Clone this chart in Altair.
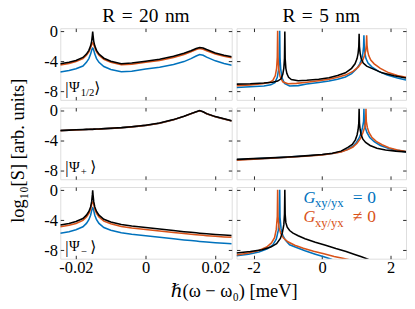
import altair as alt
import pandas as pd

# ---------------- data ----------------
# Left column (R = 20 nm): shared x grid, values are log10 S
L_X = [-0.0245, -0.022, -0.02, -0.018, -0.017, -0.0163, -0.0158, -0.0155, -0.0153, -0.0152,
       -0.0151, -0.0149, -0.0146, -0.0141, -0.0134, -0.012, -0.01, -0.007, -0.004, 0.0,
       0.004, 0.008, 0.011, 0.013, 0.0145, 0.0155, 0.0165, 0.0175, 0.02, 0.0225, 0.0247]

TL_BLACK = [-4.3, -4.1, -3.85, -3.45, -3.0, -2.5, -1.9, -1.3, -0.5, 0.0,
            -0.5, -1.3, -1.9, -2.5, -3.0, -3.55, -3.95, -4.28, -4.2, -3.95,
            -3.7, -3.3, -2.9, -2.55, -2.25, -2.12, -2.2, -2.4, -2.85, -3.15, -3.35]
TL_ORANGE = [-4.45, -4.25, -4.0, -3.6, -3.15, -2.7, -2.15, -1.75, -1.55, -1.5,
             -1.55, -1.75, -2.15, -2.7, -3.15, -3.7, -4.1, -4.42, -4.35, -4.1,
             -3.85, -3.45, -3.05, -2.7, -2.4, -2.27, -2.35, -2.55, -3.0, -3.3, -3.5]
TL_BLUE = [-5.4, -5.2, -4.95, -4.6, -4.1, -3.6, -3.0, -2.5, -2.25, -2.2,
           -2.25, -2.5, -3.0, -3.6, -4.1, -4.65, -5.05, -5.35, -5.3, -5.0,
           -4.75, -4.4, -4.0, -3.6, -3.25, -3.05, -3.15, -3.4, -3.9, -4.25, -4.5]

ML_BLACK = [-2.6, -2.55, -2.5, -2.47, -2.45, -2.44, -2.43, -2.43, -2.43, -2.43,
            -2.43, -2.42, -2.42, -2.41, -2.4, -2.35, -2.3, -2.22, -2.1, -1.9,
            -1.6, -1.15, -0.7, -0.35, -0.1, 0.05, -0.1, -0.35, -0.75, -1.05, -1.3]
ML_ORANGE = [-2.62, -2.57, -2.52, -2.49, -2.47, -2.46, -2.45, -2.45, -2.45, -2.45,
             -2.45, -2.44, -2.44, -2.43, -2.42, -2.37, -2.32, -2.24, -2.12, -1.92,
             -1.62, -1.17, -0.72, -0.37, -0.12, 0.03, -0.12, -0.37, -0.77, -1.07, -1.32]
ML_BLUE = ML_ORANGE

BL_BLACK = [-4.6, -4.4, -4.15, -3.75, -3.3, -2.8, -2.2, -1.5, -0.6, 0.0,
            -0.6, -1.5, -2.2, -2.8, -3.3, -3.85, -4.2, -4.55, -4.75, -4.95,
            -5.15, -5.35, -5.5, -5.58, -5.65, -5.7, -5.74, -5.78, -5.87, -5.95, -6.0]
BL_ORANGE = [-4.85, -4.65, -4.4, -4.0, -3.55, -3.05, -2.5, -1.85, -1.6, -1.55,
             -1.6, -1.85, -2.5, -3.05, -3.55, -4.1, -4.45, -4.8, -5.0, -5.2,
             -5.4, -5.6, -5.75, -5.83, -5.9, -5.95, -5.99, -6.03, -6.12, -6.2, -6.25]
BL_BLUE = [-5.7, -5.5, -5.25, -4.85, -4.4, -3.9, -3.3, -2.7, -2.35, -2.3,
           -2.35, -2.7, -3.3, -3.9, -4.4, -4.95, -5.3, -5.65, -5.85, -6.05,
           -6.25, -6.45, -6.6, -6.68, -6.75, -6.8, -6.84, -6.88, -6.97, -7.05, -7.1]

# Right column (R = 5 nm)
TR_BLACK_X = [-2.5, -2.1, -1.7, -1.45, -1.3, -1.2, -1.15, -1.12, -1.1, -1.09, -1.08, -1.06,
              -1.03, -0.98, -0.9, -0.7, -0.45, -0.1, 0.2, 0.45, 0.68, 0.86, 0.96, 1.02,
              1.05, 1.07, 1.08, 1.09, 1.11, 1.14, 1.2, 1.3, 1.5, 1.75, 2.1, 2.45]
TR_BLACK_Y = [-7.0, -6.95, -6.85, -6.75, -6.6, -6.3, -5.7, -4.9, -3.6, 0.0, -3.6, -4.9,
              -5.6, -6.1, -6.4, -6.55, -6.5, -6.35, -6.15, -5.85, -5.5, -4.9, -4.3, -3.6,
              -2.9, -2.0, -0.3, -2.0, -2.9, -3.6, -4.2, -4.6, -5.0, -5.5, -5.9, -6.2]
TR_BLUE_X = [-2.5, -2.1, -1.7, -1.5, -1.38, -1.31, -1.27, -1.25, -1.24, -1.23, -1.21, -1.17,
             -1.1, -0.95, -0.7, -0.45, -0.1, 0.2, 0.45, 0.68, 0.86, 1.0, 1.1, 1.16,
             1.19, 1.21, 1.22, 1.23, 1.25, 1.28, 1.34, 1.45, 1.65, 1.9, 2.2, 2.45]
TR_BLUE_Y = [-7.45, -7.35, -7.25, -7.1, -6.8, -6.1, -5.0, -3.5, 0.1, -3.5, -5.0, -6.2,
             -6.9, -7.25, -7.2, -7.0, -6.8, -6.6, -6.35, -6.05, -5.6, -5.0, -4.3, -3.6,
             -2.9, -2.0, -0.5, -2.0, -2.9, -3.6, -4.2, -4.7, -5.3, -5.8, -6.2, -6.45]
TR_ORANGE_X = [-2.5, -2.1, -1.75, -1.55, -1.44, -1.37, -1.33, -1.31, -1.30, -1.29, -1.27, -1.23,
               -1.15, -1.0, -0.75, -0.45, -0.1, 0.2, 0.45, 0.68, 0.9, 1.06, 1.17, 1.23,
               1.27, 1.29, 1.30, 1.31, 1.33, 1.36, 1.42, 1.52, 1.7, 1.95, 2.2, 2.45]
TR_ORANGE_Y = [-7.2, -7.1, -6.95, -6.8, -6.5, -5.9, -4.9, -3.4, 0.1, -3.4, -4.9, -6.0,
               -6.7, -6.95, -6.9, -6.75, -6.55, -6.35, -6.1, -5.8, -5.3, -4.7, -4.0, -3.3,
               -2.6, -1.8, -0.5, -1.8, -2.6, -3.2, -3.8, -4.3, -4.9, -5.5, -5.85, -6.1]

MR_BLACK_X = [-2.5, -2.0, -1.5, -1.0, -0.5, 0.0, 0.3, 0.55, 0.75, 0.88, 0.97, 1.02, 1.05,
              1.07, 1.08, 1.09, 1.11, 1.14, 1.19, 1.27, 1.4, 1.6, 1.85, 2.15, 2.45]
MR_BLACK_Y = [-6.45, -6.35, -6.25, -6.12, -5.98, -5.8, -5.62, -5.35, -4.85, -4.45, -3.85, -3.2, -2.5,
              -1.6, 0.3, -1.6, -2.5, -3.2, -3.75, -4.2, -4.6, -4.95, -5.2, -5.35, -5.45]
MR_ORANGE_X = [-2.5, -2.0, -1.5, -1.0, -0.5, 0.0, 0.3, 0.55, 0.75, 0.9, 1.02, 1.12, 1.19,
               1.24, 1.27, 1.28, 1.29, 1.32, 1.37, 1.45, 1.58, 1.75, 1.95, 2.2, 2.45]
MR_ORANGE_Y = [-6.55, -6.42, -6.3, -6.17, -6.02, -5.85, -5.68, -5.45, -5.15, -4.8, -4.3, -3.65, -2.9,
               -2.2, -1.4, 0.3, -1.4, -2.2, -2.9, -3.5, -4.05, -4.5, -4.9, -5.2, -5.4]
MR_BLUE_X = [-2.5, -2.0, -1.5, -1.0, -0.5, 0.0, 0.3, 0.55, 0.75, 0.9, 1.0, 1.08, 1.14,
             1.18, 1.21, 1.22, 1.23, 1.26, 1.31, 1.39, 1.52, 1.7, 1.95, 2.2, 2.45]
MR_BLUE_Y = [-6.5, -6.38, -6.28, -6.15, -6.0, -5.83, -5.66, -5.42, -5.1, -4.7, -4.2, -3.6, -2.9,
             -2.2, -1.4, 0.3, -1.4, -2.2, -2.9, -3.55, -4.1, -4.6, -5.0, -5.25, -5.45]

BR_BLACK_X = [-2.5, -2.1, -1.75, -1.5, -1.33, -1.22, -1.16, -1.12, -1.10, -1.09, -1.08, -1.06,
              -1.02, -0.95, -0.85, -0.7, -0.5, -0.2, 0.1, 0.4, 0.7, 0.95, 1.15, 1.3, 1.45]
BR_BLACK_Y = [-8.35, -8.15, -7.9, -7.55, -7.1, -6.4, -5.6, -4.6, -3.2, 0.1, -3.2, -4.3,
              -4.9, -5.35, -5.7, -6.05, -6.45, -6.9, -7.3, -7.75, -8.15, -8.55, -8.85, -9.1, -9.4]
BR_ORANGE_X = [-2.5, -2.15, -1.85, -1.62, -1.48, -1.39, -1.34, -1.31, -1.30, -1.29, -1.26,
               -1.21, -1.13, -1.0, -0.8, -0.55, -0.25, 0.05, 0.35, 0.6, 0.8, 0.95]
BR_ORANGE_Y = [-8.6, -8.35, -8.0, -7.55, -7.0, -6.3, -5.2, -3.5, 0.1, -3.5, -4.9,
               -5.75, -6.35, -6.85, -7.3, -7.7, -8.1, -8.45, -8.8, -9.05, -9.25, -9.4]
BR_BLUE_X = [-2.5, -2.15, -1.85, -1.6, -1.44, -1.34, -1.28, -1.25, -1.24, -1.23, -1.2,
             -1.15, -1.07, -0.95, -0.75, -0.5, -0.2, 0.05, 0.25, 0.4]
BR_BLUE_Y = [-8.7, -8.5, -8.2, -7.8, -7.25, -6.5, -5.3, -3.6, 0.1, -3.6, -5.1,
             -6.0, -6.65, -7.25, -7.6, -8.05, -8.5, -8.85, -9.15, -9.4]

COL_TITLES = ["R\u2004=\u200420\u2004nm", "R\u2004=\u20045\u2004nm"]
STATE_SUBS = ["1/2", "+", "\u2212"]
L_TICKS = [-0.02, 0, 0.02]
R_TICKS = [-2, 0, 2]
Y_TICKS = [-8, -4, 0]
Y_TITLE = "log\u2081\u2080[S] [arb. units]"
X_TITLE = "\u210f(\u03c9 \u2212 \u03c9\u2080) [meV]"
LEGEND = ["=", "\u2260", "0"]

# ---------------- styling ----------------
BLUE, ORANGE, BLACK = "#0072BD", "#D95319", "#000000"
FONT = "Liberation Serif, DejaVu Serif"
LFS = 17      # tick labels
TFS = 20      # column titles
TICK = 3.5
AX = "#262626"
YDOM = [-9.1, 0.45]
L_DOM = [-0.0245, 0.0247]
R_DOM = [-2.5, 2.45]
WL, WR, H = 177, 175, 74
ONE = pd.DataFrame({"k": [0]})
MINUS = "replace(datum.label, '\u2212', '-')"
KET_CLOSE = {"1/2": 35, "+": 31, "\u2212": 31}


def txt(s, x, y, size, color=BLACK, style="normal", align="left"):
    return alt.Chart(ONE).mark_text(
        text=s, font=FONT, fontSize=size, fontStyle=style, color=color,
        align=align, baseline="alphabetic"
    ).encode(x=alt.value(x), y=alt.value(y))


def ket(sub):
    return [txt("|", 5, H - 6, 17), txt("\u03a8", 9, H - 8, 15),
            txt(sub, 21, H - 4, 11), txt("\u27e9", KET_CLOSE[sub], H - 7, 16)]


def panel(series, xdom, xticks, width, xlabels, ylabels, ytitle=None, xtitle=None,
          title=None, notes=()):
    xs_lab = dict(orient="bottom", values=xticks, ticks=False, domain=False, grid=False,
                  labels=xlabels, format="~g", labelExpr=MINUS, labelFont=FONT,
                  labelFontSize=LFS, labelColor=BLACK, labelPadding=1, labelFlush=False,
                  title=None)
    if xtitle:
        xs_lab.update(title=xtitle, titleFont=FONT, titleFontSize=19, titleFontWeight="normal",
                      titleColor=BLACK, titleX=179, titleY=39, titleBaseline="alphabetic",
                      titleAlign="center")
    ys_lab = dict(orient="left", values=Y_TICKS, ticks=False, domain=False, grid=False,
                  labels=ylabels, format="~g", labelExpr=MINUS, labelFont=FONT,
                  labelFontSize=LFS, labelColor=BLACK, labelPadding=3, title=None)
    if ytitle:
        ys_lab.update(title=ytitle, titleFont=FONT, titleFontSize=19,
                      titleFontWeight="normal", titleColor=BLACK, titleX=-34, titleY=44,
                      titleAlign="center", titleBaseline="bottom", titleAngle=270)
    tick = dict(ticks=True, tickSize=TICK, tickColor=AX, tickWidth=1, labels=False,
                domain=False, grid=False, offset=-TICK, title=None)
    axes = [
        (alt.Axis(**xs_lab), alt.Axis(**ys_lab)),
        (alt.Axis(orient="bottom", values=xticks, **tick), alt.Axis(orient="left", values=Y_TICKS, **tick)),
        (alt.Axis(orient="top", values=xticks, **tick), alt.Axis(orient="right", values=Y_TICKS, **tick)),
    ]
    layers = []
    for (xv, yv, color), (ax, ay) in zip(series, axes):
        df = pd.DataFrame({"x": xv, "y": yv})
        layers.append(
            alt.Chart(df).mark_line(color=color, strokeWidth=1.6, clip=True).encode(
                x=alt.X("x:Q", scale=alt.Scale(domain=xdom, nice=False, zero=False), axis=ax),
                y=alt.Y("y:Q", scale=alt.Scale(domain=YDOM, nice=False, zero=False), axis=ay),
            )
        )
    extra = list(notes)
    if title:
        extra.append(txt(title, width / 2, -6, TFS, align="center"))
    ch = alt.layer(*layers, *extra).resolve_axis(x="independent", y="independent")
    return ch.properties(width=width, height=H)


legend_notes = []
for i, (col, base) in enumerate([(BLUE, 16), (ORANGE, 36)]):
    legend_notes += [
        txt("G", 69, base, 17, col, "italic"), txt("xy/yx", 81, base + 5, 13, col),
        txt(LEGEND[i], 120, base, 18, col), txt(LEGEND[2], 135, base, 18, col),
    ]

tl = panel([(L_X, TL_BLUE, BLUE), (L_X, TL_ORANGE, ORANGE), (L_X, TL_BLACK, BLACK)],
           L_DOM, L_TICKS, WL, False, True, title=COL_TITLES[0], notes=ket(STATE_SUBS[0]))
tr = panel([(TR_BLUE_X, TR_BLUE_Y, BLUE), (TR_ORANGE_X, TR_ORANGE_Y, ORANGE),
            (TR_BLACK_X, TR_BLACK_Y, BLACK)],
           R_DOM, R_TICKS, WR, False, False, title=COL_TITLES[1])
ml = panel([(L_X, ML_BLUE, BLUE), (L_X, ML_ORANGE, ORANGE), (L_X, ML_BLACK, BLACK)],
           L_DOM, L_TICKS, WL, False, True, ytitle=Y_TITLE, notes=ket(STATE_SUBS[1]))
mr = panel([(MR_BLUE_X, MR_BLUE_Y, BLUE), (MR_ORANGE_X, MR_ORANGE_Y, ORANGE),
            (MR_BLACK_X, MR_BLACK_Y, BLACK)],
           R_DOM, R_TICKS, WR, False, False)
bl = panel([(L_X, BL_BLUE, BLUE), (L_X, BL_ORANGE, ORANGE), (L_X, BL_BLACK, BLACK)],
           L_DOM, L_TICKS, WL, True, True, xtitle=X_TITLE, notes=ket(STATE_SUBS[2]))
br = panel([(BR_BLUE_X, BR_BLUE_Y, BLUE), (BR_ORANGE_X, BR_ORANGE_Y, ORANGE),
            (BR_BLACK_X, BR_BLACK_Y, BLACK)],
           R_DOM, R_TICKS, WR, True, False, notes=legend_notes)

chart = alt.concat(tl, tr, ml, mr, bl, br, columns=2, spacing={"row": 8, "column": 5},
                   bounds="flush").properties(
    padding={"left": 0, "top": -7, "right": 0, "bottom": 0}
).configure_view(stroke=AX, strokeWidth=1.4).configure(background="white")

chart.save("out.html", embed_options={"renderer": "svg", "actions": False})
